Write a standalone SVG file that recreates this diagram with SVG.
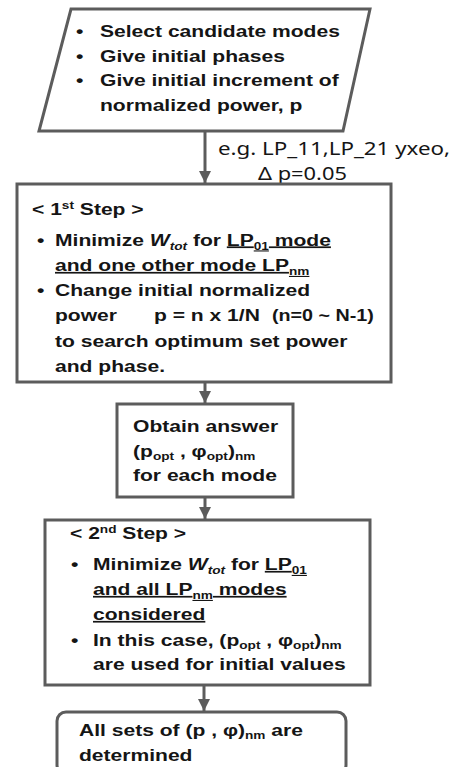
<svg xmlns="http://www.w3.org/2000/svg" width="457" height="767" viewBox="0 0 457 767">
<style>
.shape{fill:#ffffff;stroke:#5c5c5c;stroke-width:3}
.b{font-family:"Liberation Sans",Arial,sans-serif;font-weight:bold;font-size:17px;fill:#151515}
.lbl{font-family:"Noto Sans","Noto Sans CJK JP",sans-serif;font-size:18px;fill:#151515}
.sub{font-size:11px}
.it{font-style:italic}
.conn{stroke:#5c5c5c;stroke-width:3;fill:none}
</style>
<defs>
<marker id="ah" markerUnits="userSpaceOnUse" markerWidth="14" markerHeight="14" viewBox="0 0 14 14" refX="13" refY="7" orient="auto">
<path d="M1,1 L13,7 L1,13 Z" fill="#5c5c5c"/>
</marker>
</defs>
<rect width="457" height="767" fill="#ffffff"/>

<g id="connectors">
<line class="conn" x1="205" y1="131" x2="205" y2="183" marker-end="url(#ah)"/>
<line class="conn" x1="205" y1="382" x2="205" y2="403" marker-end="url(#ah)"/>
<line class="conn" x1="205" y1="497" x2="205" y2="519" marker-end="url(#ah)"/>
<line class="conn" x1="204" y1="685" x2="204" y2="711" marker-end="url(#ah)"/>
</g>

<g id="input">
<polygon class="shape" points="71,9 370,9 343,131 39,131"/>
<text class="b" transform="translate(76,36.5) scale(1.24,1)">•</text>
<text class="b" transform="translate(100,36.5) scale(1.24,1)">Select candidate modes</text>
<text class="b" transform="translate(76,61.5) scale(1.24,1)">•</text>
<text class="b" transform="translate(100,61.5) scale(1.24,1)">Give initial phases</text>
<text class="b" transform="translate(76,86) scale(1.24,1)">•</text>
<text class="b" transform="translate(100,86) scale(1.24,1)">Give initial increment of</text>
<text class="b" transform="translate(100,110.5) scale(1.24,1)">normalized power, p</text>
</g>

<g id="label1">
<text class="lbl"><tspan x="218" y="155" textLength="232" lengthAdjust="spacingAndGlyphs">e.g. LP_11,LP_21 yxeo,</tspan><tspan x="258" y="180" textLength="89" lengthAdjust="spacingAndGlyphs">Δ p=0.05</tspan></text>
</g>

<g id="step1">
<rect class="shape" x="17" y="184" width="374" height="198"/>
<text class="b" transform="translate(32,215) scale(1.24,1)">&lt; 1<tspan class="sub" dy="-6">st</tspan><tspan dy="6"> Step &gt;</tspan></text>
<text class="b" transform="translate(37,245.5) scale(1.24,1)">•</text>
<text class="b" transform="translate(55,245.5) scale(1.24,1)">Minimize <tspan class="it">W</tspan><tspan class="it sub" dy="4">tot</tspan><tspan dy="-4"> for </tspan><tspan text-decoration="underline">LP</tspan><tspan class="sub" dy="4" text-decoration="underline">01</tspan><tspan dy="-4" text-decoration="underline"> mode</tspan></text>
<text class="b" transform="translate(55,271) scale(1.24,1)"><tspan text-decoration="underline">and one other mode LP</tspan><tspan class="sub" dy="4" text-decoration="underline">nm</tspan></text>
<text class="b" transform="translate(37,296) scale(1.24,1)">•</text>
<text class="b" transform="translate(55,296) scale(1.24,1)">Change initial normalized</text>
<text class="b" transform="translate(55,321) scale(1.24,1)">power</text>
<text class="b" transform="translate(154,321) scale(1.24,1)">p = n x 1/N</text>
<text class="b" transform="translate(272,321) scale(1.16,1)">(n=0 ~ N-1)</text>
<text class="b" transform="translate(55,346.5) scale(1.24,1)">to search optimum set power</text>
<text class="b" transform="translate(55,372) scale(1.24,1)">and phase.</text>
</g>

<g id="answer">
<rect class="shape" x="117" y="404" width="176" height="93"/>
<text class="b" transform="translate(133,432) scale(1.24,1)">Obtain answer</text>
<text class="b" transform="translate(133,457) scale(1.24,1)">(p<tspan class="sub" dy="3">opt</tspan><tspan dy="-3"> , φ</tspan><tspan class="sub" dy="3">opt</tspan><tspan dy="-3">)</tspan><tspan class="sub" dy="3">nm</tspan></text>
<text class="b" transform="translate(133,481) scale(1.24,1)">for each mode</text>
</g>

<g id="step2">
<rect class="shape" x="45" y="520" width="325" height="165"/>
<text class="b" transform="translate(70,539) scale(1.24,1)">&lt; 2<tspan class="sub" dy="-6">nd</tspan><tspan dy="6"> Step &gt;</tspan></text>
<text class="b" transform="translate(71,570) scale(1.24,1)">•</text>
<text class="b" transform="translate(93,570) scale(1.24,1)">Minimize <tspan class="it">W</tspan><tspan class="it sub" dy="4">tot</tspan><tspan dy="-4"> for </tspan><tspan text-decoration="underline">LP</tspan><tspan class="sub" dy="4" text-decoration="underline">01</tspan></text>
<text class="b" transform="translate(93,595) scale(1.24,1)"><tspan text-decoration="underline">and all LP</tspan><tspan class="sub" dy="4" text-decoration="underline">nm</tspan><tspan dy="-4" text-decoration="underline"> modes</tspan></text>
<text class="b" transform="translate(93,620) scale(1.24,1)"><tspan text-decoration="underline">considered</tspan></text>
<text class="b" transform="translate(71,646) scale(1.24,1)">•</text>
<text class="b" transform="translate(93,646) scale(1.24,1)">In this case, (p<tspan class="sub" dy="3">opt</tspan><tspan dy="-3"> , φ</tspan><tspan class="sub" dy="3">opt</tspan><tspan dy="-3">)</tspan><tspan class="sub" dy="3">nm</tspan></text>
<text class="b" transform="translate(93,670) scale(1.24,1)">are used for initial values</text>
</g>

<g id="result">
<rect class="shape" x="57" y="712" width="289" height="62" rx="9" ry="9"/>
<text class="b" transform="translate(79,736) scale(1.24,1)">All sets of (p , φ)<tspan class="sub" dy="3">nm</tspan><tspan dy="-3"> are</tspan></text>
<text class="b" transform="translate(79,761) scale(1.24,1)">determined</text>
</g>
</svg>
